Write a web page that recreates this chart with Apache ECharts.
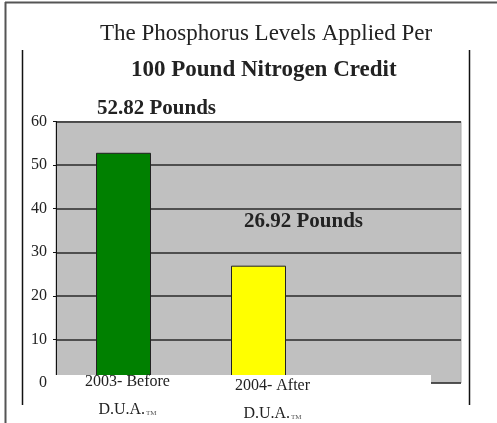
<!DOCTYPE html>
<html><head><meta charset="utf-8">
<script src="https://cdn.jsdelivr.net/npm/echarts@6/dist/echarts.min.js"></script>
<style>html,body{margin:0;padding:0;background:#fff}#c{width:497px;height:423px}</style>
</head><body><div id="c"></div>
<script>
var categories = ['2003- Before', '2004- After', ''];
var values = [52.82, 26.92, null];
var barColors = ['#008000', '#ffff00', '#ffffff'];
var titleLine1 = 'The Phosphorus Levels Applied Per';
var titleLine2 = '100 Pound Nitrogen Credit';
var unit = 'Pounds';

var serif = '"Liberation Serif", "Times New Roman", serif';
var labelOffsets = [[33, 0], [45, 0], [0, 0]];
var catPads = [[0, 0, 0, 8], [4, 0, 0, 28], [0, 0, 0, 0]];

var chart = echarts.init(document.getElementById('c'), null, {renderer: 'canvas'});
chart.setOption({
  animation: false,
  backgroundColor: '#ffffff',
  title: [
    {text: titleLine1, left: 95, top: 17, textStyle: {fontFamily: serif, fontWeight: 'normal', fontSize: 23, color: '#222'}},
    {text: titleLine2, left: 126, top: 54, textStyle: {fontFamily: serif, fontWeight: 'bold', fontSize: 23, color: '#222'}}
  ],
  grid: {left: 56, right: 36, top: 121.5, bottom: 40, outerBoundsMode: 'none', containLabel: false,
         show: true, backgroundColor: '#c0c0c0', borderColor: '#a8a8a8', borderWidth: 1},
  xAxis: {
    type: 'category',
    data: categories.map(function (c, i) {
      return {value: c, textStyle: {padding: catPads[i]}};
    }),
    axisLine: {show: false}, axisTick: {show: false},
    z: 10,
    axisLabel: {
      interval: 0, margin: -15,
      formatter: function (v) { return v ? v + '\n{d|D.U.A.}{tm|TM}' : ''; },
      fontFamily: serif, fontSize: 16, color: '#222', lineHeight: 28,
      rich: {
        d: {fontFamily: serif, fontSize: 16, color: '#222', lineHeight: 28},
        tm: {fontFamily: serif, fontSize: 7, color: '#555', lineHeight: 28, verticalAlign: 'middle', padding: [7, 0, 0, 1]}
      }
    }
  },
  yAxis: {
    type: 'value', min: 0, max: 60, interval: 10,
    axisLine: {show: true, lineStyle: {color: '#111', width: 1}},
    axisTick: {show: true, length: 3, lineStyle: {color: '#111'}},
    splitLine: {lineStyle: {color: '#2a2a2a', width: 1.5}},
    axisLabel: {margin: 9, fontFamily: serif, fontSize: 16, color: '#222'}
  },
  series: [{
    type: 'bar',
    barWidth: 55,
    data: values.map(function (v, i) {
      return {
        value: v,
        itemStyle: {color: barColors[i], borderColor: '#222', borderWidth: 1},
        label: {offset: labelOffsets[i]}
      };
    }),
    label: {
      show: true, position: 'top', distance: 34,
      formatter: function (p) { return p.value.toFixed(2) + ' ' + unit; },
      fontFamily: serif, fontWeight: 'bold', fontSize: 21, color: '#222'
    }
  }],
  graphic: [
    {type: 'rect', z: 5, shape: {x: 50, y: 375, width: 381, height: 30}, style: {fill: '#ffffff'}},
    {type: 'line', shape: {x1: 5, y1: 2.5, x2: 497, y2: 2.5}, style: {stroke: '#555', lineWidth: 2}},
    {type: 'line', shape: {x1: 5.5, y1: 2, x2: 5.5, y2: 423}, style: {stroke: '#555', lineWidth: 2}},
    {type: 'line', shape: {x1: 22.5, y1: 50, x2: 22.5, y2: 405}, style: {stroke: '#111', lineWidth: 1.5}},
    {type: 'line', shape: {x1: 469.5, y1: 50, x2: 469.5, y2: 405}, style: {stroke: '#111', lineWidth: 1.5}}
  ]
});
</script></body></html>
